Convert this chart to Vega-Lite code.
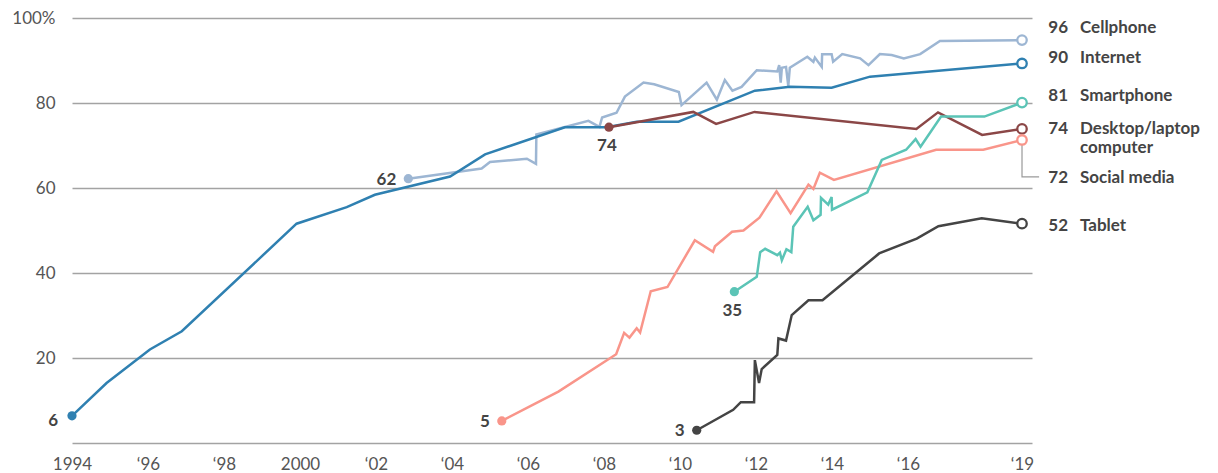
{
  "$schema": "https://vega.github.io/schema/vega-lite/v6.json",
  "width": 960,
  "height": 425,
  "autosize": {"type": "none"},
  "padding": {"left": 72, "top": 18, "right": 186, "bottom": 30},
  "background": "white",
  "config": {"view": {"stroke": null}, "font": "Lato", "text": {"font": "Lato"}},
  "datasets": {
    "series": [
      {"s": "Cellphone", "year": 2002.85, "pct": 62.2},
      {"s": "Cellphone", "year": 2004.78, "pct": 64.6},
      {"s": "Cellphone", "year": 2005.0, "pct": 66.1},
      {"s": "Cellphone", "year": 2005.97, "pct": 66.9},
      {"s": "Cellphone", "year": 2006.21, "pct": 65.7},
      {"s": "Cellphone", "year": 2006.22, "pct": 72.6},
      {"s": "Cellphone", "year": 2007.59, "pct": 75.8},
      {"s": "Cellphone", "year": 2007.88, "pct": 74.4},
      {"s": "Cellphone", "year": 2007.95, "pct": 76.6},
      {"s": "Cellphone", "year": 2008.33, "pct": 77.7},
      {"s": "Cellphone", "year": 2008.55, "pct": 81.5},
      {"s": "Cellphone", "year": 2009.04, "pct": 84.8},
      {"s": "Cellphone", "year": 2009.32, "pct": 84.4},
      {"s": "Cellphone", "year": 2009.97, "pct": 82.6},
      {"s": "Cellphone", "year": 2010.04, "pct": 79.5},
      {"s": "Cellphone", "year": 2010.7, "pct": 84.8},
      {"s": "Cellphone", "year": 2010.97, "pct": 80.8},
      {"s": "Cellphone", "year": 2011.18, "pct": 85.4},
      {"s": "Cellphone", "year": 2011.38, "pct": 82.9},
      {"s": "Cellphone", "year": 2011.62, "pct": 83.8},
      {"s": "Cellphone", "year": 2012.02, "pct": 87.7},
      {"s": "Cellphone", "year": 2012.56, "pct": 87.4},
      {"s": "Cellphone", "year": 2012.61, "pct": 88.9},
      {"s": "Cellphone", "year": 2012.65, "pct": 84.8},
      {"s": "Cellphone", "year": 2012.68, "pct": 88.3},
      {"s": "Cellphone", "year": 2012.79, "pct": 88.5},
      {"s": "Cellphone", "year": 2012.85, "pct": 84.0},
      {"s": "Cellphone", "year": 2012.89, "pct": 88.3},
      {"s": "Cellphone", "year": 2013.35, "pct": 90.9},
      {"s": "Cellphone", "year": 2013.51, "pct": 89.7},
      {"s": "Cellphone", "year": 2013.55, "pct": 90.7},
      {"s": "Cellphone", "year": 2013.73, "pct": 88.5},
      {"s": "Cellphone", "year": 2013.74, "pct": 91.5},
      {"s": "Cellphone", "year": 2013.99, "pct": 91.5},
      {"s": "Cellphone", "year": 2014.03, "pct": 89.7},
      {"s": "Cellphone", "year": 2014.27, "pct": 91.5},
      {"s": "Cellphone", "year": 2014.74, "pct": 90.5},
      {"s": "Cellphone", "year": 2014.96, "pct": 88.9},
      {"s": "Cellphone", "year": 2015.26, "pct": 91.5},
      {"s": "Cellphone", "year": 2015.57, "pct": 91.3},
      {"s": "Cellphone", "year": 2015.89, "pct": 90.5},
      {"s": "Cellphone", "year": 2016.32, "pct": 91.5},
      {"s": "Cellphone", "year": 2016.84, "pct": 94.6},
      {"s": "Cellphone", "year": 2019.0, "pct": 94.8},

      {"s": "Internet", "year": 1994.0, "pct": 6.4},
      {"s": "Internet", "year": 1994.91, "pct": 14.1},
      {"s": "Internet", "year": 1996.05, "pct": 22.0},
      {"s": "Internet", "year": 1996.89, "pct": 26.3},
      {"s": "Internet", "year": 1999.91, "pct": 51.6},
      {"s": "Internet", "year": 2001.23, "pct": 55.5},
      {"s": "Internet", "year": 2001.97, "pct": 58.4},
      {"s": "Internet", "year": 2003.95, "pct": 62.7},
      {"s": "Internet", "year": 2004.87, "pct": 67.9},
      {"s": "Internet", "year": 2006.97, "pct": 74.3},
      {"s": "Internet", "year": 2008.07, "pct": 74.3},
      {"s": "Internet", "year": 2008.86, "pct": 75.6},
      {"s": "Internet", "year": 2009.96, "pct": 75.6},
      {"s": "Internet", "year": 2011.97, "pct": 82.9},
      {"s": "Internet", "year": 2012.89, "pct": 83.8},
      {"s": "Internet", "year": 2013.99, "pct": 83.6},
      {"s": "Internet", "year": 2015.0, "pct": 86.2},
      {"s": "Internet", "year": 2019.0, "pct": 89.3},

      {"s": "Desktop", "year": 2008.13, "pct": 74.3},
      {"s": "Desktop", "year": 2010.35, "pct": 77.9},
      {"s": "Desktop", "year": 2010.95, "pct": 75.1},
      {"s": "Desktop", "year": 2011.96, "pct": 77.9},
      {"s": "Desktop", "year": 2016.22, "pct": 73.9},
      {"s": "Desktop", "year": 2016.79, "pct": 77.8},
      {"s": "Desktop", "year": 2017.95, "pct": 72.5},
      {"s": "Desktop", "year": 2019.0, "pct": 73.9},

      {"s": "Social media", "year": 2005.31, "pct": 5.2},
      {"s": "Social media", "year": 2006.8, "pct": 12.1},
      {"s": "Social media", "year": 2008.32, "pct": 20.9},
      {"s": "Social media", "year": 2008.53, "pct": 25.9},
      {"s": "Social media", "year": 2008.67, "pct": 24.8},
      {"s": "Social media", "year": 2008.86, "pct": 27.0},
      {"s": "Social media", "year": 2008.95, "pct": 26.0},
      {"s": "Social media", "year": 2009.23, "pct": 35.7},
      {"s": "Social media", "year": 2009.67, "pct": 36.7},
      {"s": "Social media", "year": 2010.39, "pct": 47.7},
      {"s": "Social media", "year": 2010.87, "pct": 45.0},
      {"s": "Social media", "year": 2010.92, "pct": 46.3},
      {"s": "Social media", "year": 2011.37, "pct": 49.7},
      {"s": "Social media", "year": 2011.67, "pct": 50.0},
      {"s": "Social media", "year": 2012.09, "pct": 53.0},
      {"s": "Social media", "year": 2012.54, "pct": 59.2},
      {"s": "Social media", "year": 2012.91, "pct": 54.1},
      {"s": "Social media", "year": 2013.38, "pct": 60.8},
      {"s": "Social media", "year": 2013.51, "pct": 59.8},
      {"s": "Social media", "year": 2013.68, "pct": 63.6},
      {"s": "Social media", "year": 2014.05, "pct": 61.9},
      {"s": "Social media", "year": 2016.74, "pct": 69.0},
      {"s": "Social media", "year": 2017.98, "pct": 69.0},
      {"s": "Social media", "year": 2019.0, "pct": 71.3},

      {"s": "Smartphone", "year": 2011.43, "pct": 35.6},
      {"s": "Smartphone", "year": 2012.02, "pct": 39.1},
      {"s": "Smartphone", "year": 2012.11, "pct": 44.9},
      {"s": "Smartphone", "year": 2012.24, "pct": 45.7},
      {"s": "Smartphone", "year": 2012.56, "pct": 44.2},
      {"s": "Smartphone", "year": 2012.63, "pct": 44.8},
      {"s": "Smartphone", "year": 2012.68, "pct": 43.0},
      {"s": "Smartphone", "year": 2012.8, "pct": 45.6},
      {"s": "Smartphone", "year": 2012.93, "pct": 44.9},
      {"s": "Smartphone", "year": 2012.98, "pct": 50.9},
      {"s": "Smartphone", "year": 2013.36, "pct": 55.6},
      {"s": "Smartphone", "year": 2013.51, "pct": 52.4},
      {"s": "Smartphone", "year": 2013.7, "pct": 53.7},
      {"s": "Smartphone", "year": 2013.71, "pct": 57.7},
      {"s": "Smartphone", "year": 2013.9, "pct": 56.1},
      {"s": "Smartphone", "year": 2013.99, "pct": 57.9},
      {"s": "Smartphone", "year": 2014.0, "pct": 54.9},
      {"s": "Smartphone", "year": 2014.93, "pct": 59.0},
      {"s": "Smartphone", "year": 2015.31, "pct": 66.6},
      {"s": "Smartphone", "year": 2015.95, "pct": 69.0},
      {"s": "Smartphone", "year": 2016.2, "pct": 71.5},
      {"s": "Smartphone", "year": 2016.33, "pct": 69.7},
      {"s": "Smartphone", "year": 2016.87, "pct": 76.8},
      {"s": "Smartphone", "year": 2018.01, "pct": 76.8},
      {"s": "Smartphone", "year": 2019.0, "pct": 80.1},

      {"s": "Tablet", "year": 2010.44, "pct": 3.0},
      {"s": "Tablet", "year": 2011.4, "pct": 7.8},
      {"s": "Tablet", "year": 2011.6, "pct": 9.6},
      {"s": "Tablet", "year": 2011.95, "pct": 9.6},
      {"s": "Tablet", "year": 2011.97, "pct": 19.5},
      {"s": "Tablet", "year": 2012.08, "pct": 14.1},
      {"s": "Tablet", "year": 2012.15, "pct": 17.4},
      {"s": "Tablet", "year": 2012.56, "pct": 20.7},
      {"s": "Tablet", "year": 2012.59, "pct": 24.6},
      {"s": "Tablet", "year": 2012.79, "pct": 24.1},
      {"s": "Tablet", "year": 2012.94, "pct": 30.1},
      {"s": "Tablet", "year": 2013.38, "pct": 33.6},
      {"s": "Tablet", "year": 2013.75, "pct": 33.6},
      {"s": "Tablet", "year": 2015.24, "pct": 44.6},
      {"s": "Tablet", "year": 2016.23, "pct": 48.1},
      {"s": "Tablet", "year": 2016.8, "pct": 51.0},
      {"s": "Tablet", "year": 2017.94, "pct": 52.9},
      {"s": "Tablet", "year": 2019.0, "pct": 51.6}
    ],
    "starts": [
      {"s": "Cellphone", "year": 2002.85, "pct": 62.2, "lbl": "62"},
      {"s": "Internet", "year": 1994.0, "pct": 6.4, "lbl": "6"},
      {"s": "Desktop", "year": 2008.13, "pct": 74.3, "lbl": "74"},
      {"s": "Social media", "year": 2005.31, "pct": 5.2, "lbl": "5"},
      {"s": "Smartphone", "year": 2011.43, "pct": 35.6, "lbl": "35"},
      {"s": "Tablet", "year": 2010.44, "pct": 3.0, "lbl": "3"}
    ],
    "ends": [
      {"s": "Cellphone", "year": 2019, "pct": 94.8, "num": 96, "name": "Cellphone"},
      {"s": "Internet", "year": 2019, "pct": 89.3, "num": 90, "name": "Internet"},
      {"s": "Smartphone", "year": 2019, "pct": 80.1, "num": 81, "name": "Smartphone"},
      {"s": "Desktop", "year": 2019, "pct": 73.9, "num": 74, "name": "Desktop/laptop", "name2": "computer"},
      {"s": "Social media", "year": 2019, "pct": 71.3, "num": 72, "name": "Social media"},
      {"s": "Tablet", "year": 2019, "pct": 51.6, "num": 52, "name": "Tablet"}
    ],
    "leader": [
      {"k": 1, "year": 2019.0, "pct": 71.3},
      {"k": 2, "year": 2019.0, "pct": 62.6},
      {"k": 3, "year": 2019.45, "pct": 62.6}
    ]
  },
  "layer": [
    {
      "data": {"name": "leader"},
      "mark": {"type": "line", "color": "#9a9a9a", "strokeWidth": 1.2, "clip": false},
      "encoding": {
        "x": {"field": "year", "type": "quantitative"},
        "y": {"field": "pct", "type": "quantitative"},
        "order": {"field": "k"}
      }
    },
    {
      "data": {"name": "series"},
      "mark": {"type": "line", "strokeWidth": 2.5},
      "encoding": {
        "x": {
          "field": "year", "type": "quantitative",
          "scale": {"domain": [1994, 2019.263], "nice": false, "zero": false},
          "axis": {
            "values": [1994, 1996, 1998, 2000, 2002, 2004, 2006, 2008, 2010, 2012, 2014, 2016, 2019],
            "labelExpr": "datum.value == 1994 ? '1994' : datum.value == 2000 ? '2000' : '‘' + substring(toString(datum.value), 2, 4)",
            "grid": false, "domain": false, "ticks": false, "labelFlush": false,
            "labelPadding": 13, "labelFontSize": 17, "labelColor": "#555555",
            "labelFont": "Lato", "title": null
          }
        },
        "y": {
          "field": "pct", "type": "quantitative",
          "scale": {"domain": [0, 100], "nice": false},
          "axis": {
            "values": [0, 20, 40, 60, 80, 100],
            "labelExpr": "datum.value == 0 ? '' : datum.value == 100 ? '100%' : datum.label",
            "grid": true, "gridColor": "#a3a3a3", "gridWidth": 1.3,
            "domain": false, "ticks": false, "labelFlush": false,
            "labelPadding": 17, "labelFontSize": 17, "labelColor": "#555555",
            "labelFont": "Lato", "title": null
          }
        },
        "color": {
          "field": "s", "type": "nominal",
          "scale": {
            "domain": ["Cellphone", "Internet", "Desktop", "Social media", "Smartphone", "Tablet"],
            "range": ["#9db6d3", "#2f80b1", "#8b4747", "#f9958a", "#5bc4b6", "#444444"]
          },
          "legend": null
        }
      }
    },
    {
      "data": {"name": "starts"},
      "mark": {"type": "circle", "size": 85, "opacity": 1},
      "encoding": {
        "x": {"field": "year", "type": "quantitative"},
        "y": {"field": "pct", "type": "quantitative"},
        "color": {"field": "s", "type": "nominal", "legend": null}
      }
    },
    {
      "data": {"name": "starts"},
      "transform": [{"filter": {"field": "s", "oneOf": ["Cellphone", "Social media", "Tablet"]}}],
      "mark": {"type": "text", "align": "right", "baseline": "middle", "dx": -12, "dy": 1, "fontSize": 17, "fontWeight": "bold", "color": "#444444"},
      "encoding": {
        "x": {"field": "year", "type": "quantitative"},
        "y": {"field": "pct", "type": "quantitative"},
        "text": {"field": "lbl"}
      }
    },
    {
      "data": {"name": "starts"},
      "transform": [{"filter": {"field": "s", "equal": "Internet"}}],
      "mark": {"type": "text", "align": "right", "baseline": "middle", "dx": -14, "dy": 5, "fontSize": 17, "fontWeight": "bold", "color": "#444444"},
      "encoding": {
        "x": {"field": "year", "type": "quantitative"},
        "y": {"field": "pct", "type": "quantitative"},
        "text": {"field": "lbl"}
      }
    },
    {
      "data": {"name": "starts"},
      "transform": [{"filter": {"field": "s", "oneOf": ["Desktop", "Smartphone"]}}],
      "mark": {"type": "text", "align": "center", "baseline": "middle", "dy": 19, "dx": -2, "fontSize": 17, "fontWeight": "bold", "color": "#444444"},
      "encoding": {
        "x": {"field": "year", "type": "quantitative"},
        "y": {"field": "pct", "type": "quantitative"},
        "text": {"field": "lbl"}
      }
    },
    {
      "data": {"name": "ends"},
      "mark": {"type": "point", "shape": "circle", "size": 90, "filled": false, "fill": "white", "fillOpacity": 1, "strokeWidth": 2.3, "opacity": 1},
      "encoding": {
        "x": {"field": "year", "type": "quantitative"},
        "y": {"field": "pct", "type": "quantitative"},
        "stroke": {"field": "s", "type": "nominal", "scale": {
            "domain": ["Cellphone", "Internet", "Desktop", "Social media", "Smartphone", "Tablet"],
            "range": ["#9db6d3", "#2f80b1", "#8b4747", "#f9958a", "#5bc4b6", "#444444"]
          }, "legend": null}
      }
    },
    {
      "data": {"name": "ends"},
      "transform": [{"filter": {"field": "s", "equal": "Cellphone"}}],
      "mark": {"type": "text", "align": "right", "baseline": "middle", "dx": 46, "dy": -7, "fontSize": 17, "fontWeight": "bold", "color": "#444444"},
      "encoding": {
        "x": {"field": "year", "type": "quantitative"},
        "y": {"field": "num", "type": "quantitative"},
        "text": {"field": "num"}
      }
    },
    {
      "data": {"name": "ends"},
      "transform": [{"filter": {"field": "s", "equal": "Cellphone"}}],
      "mark": {"type": "text", "align": "left", "baseline": "middle", "dx": 58, "dy": -7, "fontSize": 17, "fontWeight": "bold", "color": "#444444"},
      "encoding": {
        "x": {"field": "year", "type": "quantitative"},
        "y": {"field": "num", "type": "quantitative"},
        "text": {"field": "name"}
      }
    },
    {
      "data": {"name": "ends"},
      "transform": [{"filter": {"field": "s", "oneOf": ["Internet", "Smartphone"]}}],
      "mark": {"type": "text", "align": "right", "baseline": "middle", "dx": 46, "dy": -3, "fontSize": 17, "fontWeight": "bold", "color": "#444444"},
      "encoding": {
        "x": {"field": "year", "type": "quantitative"},
        "y": {"field": "num", "type": "quantitative"},
        "text": {"field": "num"}
      }
    },
    {
      "data": {"name": "ends"},
      "transform": [{"filter": {"field": "s", "oneOf": ["Internet", "Smartphone"]}}],
      "mark": {"type": "text", "align": "left", "baseline": "middle", "dx": 58, "dy": -3, "fontSize": 17, "fontWeight": "bold", "color": "#444444"},
      "encoding": {
        "x": {"field": "year", "type": "quantitative"},
        "y": {"field": "num", "type": "quantitative"},
        "text": {"field": "name"}
      }
    },
    {
      "data": {"name": "ends"},
      "transform": [{"filter": {"field": "s", "equal": "Desktop"}}],
      "mark": {"type": "text", "align": "right", "baseline": "middle", "dx": 46, "dy": 0, "fontSize": 17, "fontWeight": "bold", "color": "#444444"},
      "encoding": {
        "x": {"field": "year", "type": "quantitative"},
        "y": {"field": "num", "type": "quantitative"},
        "text": {"field": "num"}
      }
    },
    {
      "data": {"name": "ends"},
      "transform": [{"filter": {"field": "s", "equal": "Desktop"}}],
      "mark": {"type": "text", "align": "left", "baseline": "middle", "dx": 58, "dy": 0, "fontSize": 17, "fontWeight": "bold", "color": "#444444"},
      "encoding": {
        "x": {"field": "year", "type": "quantitative"},
        "y": {"field": "num", "type": "quantitative"},
        "text": {"field": "name"}
      }
    },
    {
      "data": {"name": "ends"},
      "transform": [{"filter": {"field": "s", "equal": "Desktop"}}],
      "mark": {"type": "text", "align": "left", "baseline": "middle", "dx": 58, "dy": 19, "fontSize": 17, "fontWeight": "bold", "color": "#444444"},
      "encoding": {
        "x": {"field": "year", "type": "quantitative"},
        "y": {"field": "num", "type": "quantitative"},
        "text": {"field": "name2"}
      }
    },
    {
      "data": {"name": "ends"},
      "transform": [{"filter": {"field": "s", "equal": "Tablet"}}],
      "mark": {"type": "text", "align": "right", "baseline": "middle", "dx": 46, "dy": 4, "fontSize": 17, "fontWeight": "bold", "color": "#444444"},
      "encoding": {
        "x": {"field": "year", "type": "quantitative"},
        "y": {"field": "num", "type": "quantitative"},
        "text": {"field": "num"}
      }
    },
    {
      "data": {"name": "ends"},
      "transform": [{"filter": {"field": "s", "equal": "Tablet"}}],
      "mark": {"type": "text", "align": "left", "baseline": "middle", "dx": 58, "dy": 4, "fontSize": 17, "fontWeight": "bold", "color": "#444444"},
      "encoding": {
        "x": {"field": "year", "type": "quantitative"},
        "y": {"field": "num", "type": "quantitative"},
        "text": {"field": "name"}
      }
    },
    {
      "data": {"name": "ends"},
      "transform": [{"filter": {"field": "s", "equal": "Social media"}}],
      "mark": {"type": "text", "align": "right", "baseline": "middle", "dx": 46, "dy": 41, "fontSize": 17, "fontWeight": "bold", "color": "#444444"},
      "encoding": {
        "x": {"field": "year", "type": "quantitative"},
        "y": {"field": "num", "type": "quantitative"},
        "text": {"field": "num"}
      }
    },
    {
      "data": {"name": "ends"},
      "transform": [{"filter": {"field": "s", "equal": "Social media"}}],
      "mark": {"type": "text", "align": "left", "baseline": "middle", "dx": 58, "dy": 41, "fontSize": 17, "fontWeight": "bold", "color": "#444444"},
      "encoding": {
        "x": {"field": "year", "type": "quantitative"},
        "y": {"field": "num", "type": "quantitative"},
        "text": {"field": "name"}
      }
    }
  ]
}
